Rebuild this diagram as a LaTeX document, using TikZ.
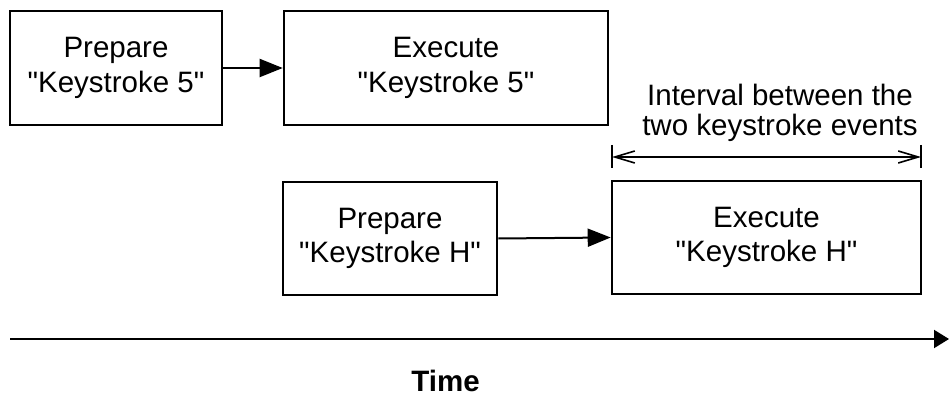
\documentclass[tikz,border=0pt]{standalone}
\usepackage{fontspec}
\setmainfont{Liberation Sans}[Ligatures=TeXOff]
\usetikzlibrary{arrows.meta}
\newcommand\qmark{\symbol{34}}
\begin{document}
\begin{tikzpicture}[x=1pt,y=-1pt,
  box/.style={draw,line width=2.6pt,inner sep=0pt,align=center,
    font=\fontsize{29.5}{34.5}\selectfont},
  flow/.style={line width=2pt,-{Triangle[length=23pt,width=18pt]}},
  dim/.style={line width=1.6pt,{Straight Barb[length=20pt,width=12pt]}-{Straight Barb[length=20pt,width=12pt]}},
  bar/.style={line width=1.8pt},
  lbl/.style={align=center,inner sep=0pt,font=\fontsize{29.5}{29.5}\selectfont}]
\useasboundingbox (0,0) rectangle (949,395);
\node[box,minimum width=212pt,minimum height=114pt] (p5) at (116,68) {Prepare\\\qmark Keystroke 5\qmark};
\node[box,minimum width=324pt,minimum height=114pt] (e5) at (446,68) {Execute\\\qmark Keystroke 5\qmark};
\node[box,minimum width=214pt,minimum height=113pt] (ph) at (390,238.5) {Prepare\\\qmark Keystroke H\qmark};
\node[box,minimum width=309pt,minimum height=113pt] (eh) at (766.5,237.5) {Execute\\\qmark Keystroke H\qmark};
\draw[flow] (p5.east) -- (e5.west);
\draw[flow] (ph.east) -- (eh.west);
\coordinate (da) at (612,157);
\coordinate (db) at (921,157);
\coordinate (dat) at (612,145);
\coordinate (dab) at (612,168);
\coordinate (dbt) at (921,145);
\coordinate (dbb) at (921,168);
\draw[bar] (dat) -- (dab);
\draw[bar] (dbt) -- (dbb);
\draw[dim] (da) -- (db);
\node[lbl] (iv) at (780,113) {Interval between the\\two keystroke events};
\coordinate (t0) at (10,339);
\coordinate (t1) at (949,339);
\draw[line width=2pt,-{Triangle[length=15pt,width=18pt]}] (t0) -- (t1);
\node[anchor=base,inner sep=0pt,font=\fontsize{29.5}{34}\selectfont\bfseries] (time) at (445.5,391.5) {Time};
\end{tikzpicture}
\end{document}
